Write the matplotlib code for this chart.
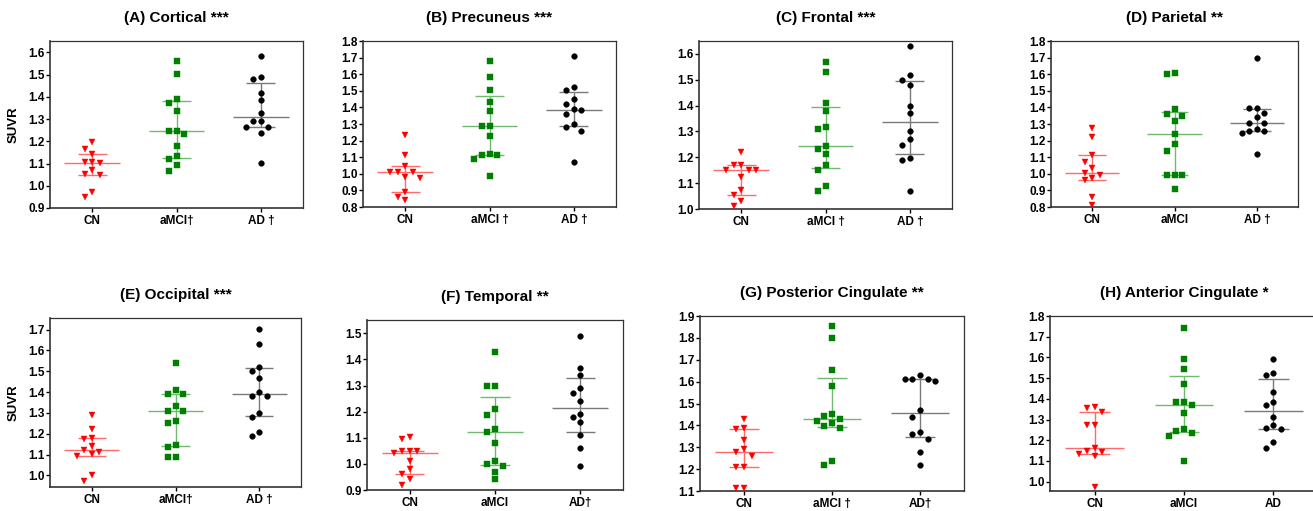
import numpy as np
import matplotlib
matplotlib.use("Agg")
import matplotlib.pyplot as plt

plt.rcParams['font.family'] = ['Liberation Sans', 'DejaVu Sans']
plt.rcParams['font.weight'] = 'bold'

# SUVR values: (CN, aMCI, AD) for every region
cortical = ([1.195, 1.167, 1.141, 1.107, 1.104, 1.107, 1.072, 1.053, 1.047, 0.972, 0.951],
            [1.561, 1.504, 1.389, 1.374, 1.336, 1.245, 1.246, 1.233, 1.180, 1.132, 1.122, 1.092, 1.065],
            [1.584, 1.479, 1.488, 1.419, 1.384, 1.329, 1.291, 1.291, 1.266, 1.266, 1.236, 1.102])
precuneus = ([1.232, 1.113, 1.045, 1.011, 1.011, 1.011, 0.983, 0.973, 0.890, 0.862, 0.842],
             [1.680, 1.581, 1.503, 1.433, 1.380, 1.290, 1.290, 1.230, 1.121, 1.113, 1.113, 1.091, 0.989],
             [1.712, 1.521, 1.505, 1.453, 1.422, 1.390, 1.382, 1.362, 1.300, 1.282, 1.260, 1.071])
frontal = ([1.222, 1.172, 1.172, 1.152, 1.152, 1.152, 1.123, 1.072, 1.053, 1.032, 1.013],
           [1.570, 1.530, 1.410, 1.380, 1.319, 1.310, 1.242, 1.231, 1.212, 1.171, 1.150, 1.090, 1.071],
           [1.630, 1.520, 1.499, 1.480, 1.400, 1.370, 1.300, 1.270, 1.249, 1.199, 1.190, 1.071])
parietal = ([1.274, 1.224, 1.116, 1.074, 1.032, 0.992, 0.974, 1.006, 0.960, 0.862, 0.812],
            [1.602, 1.610, 1.390, 1.358, 1.350, 1.320, 1.240, 1.180, 1.138, 0.990, 0.990, 0.990, 0.908],
            [1.700, 1.398, 1.398, 1.368, 1.340, 1.308, 1.308, 1.270, 1.258, 1.248, 1.258, 1.122])
occipital = ([1.291, 1.222, 1.181, 1.174, 1.141, 1.122, 1.113, 1.103, 1.092, 1.000, 0.971],
             [1.539, 1.409, 1.390, 1.390, 1.331, 1.310, 1.310, 1.260, 1.252, 1.146, 1.138, 1.090, 1.090],
             [1.702, 1.629, 1.522, 1.501, 1.470, 1.400, 1.381, 1.381, 1.299, 1.278, 1.209, 1.190])
temporal = ([1.097, 1.102, 1.050, 1.050, 1.050, 1.043, 1.011, 0.980, 0.960, 0.941, 0.921],
            [1.430, 1.300, 1.300, 1.210, 1.189, 1.132, 1.121, 1.079, 1.010, 0.990, 0.999, 0.969, 0.941],
            [1.490, 1.369, 1.340, 1.289, 1.271, 1.240, 1.190, 1.180, 1.162, 1.110, 1.060, 0.990])
post_cing = ([1.429, 1.389, 1.382, 1.333, 1.290, 1.279, 1.259, 1.210, 1.210, 1.113, 1.113],
             [1.853, 1.801, 1.651, 1.580, 1.450, 1.441, 1.429, 1.421, 1.409, 1.398, 1.388, 1.239, 1.218],
             [1.632, 1.611, 1.611, 1.611, 1.602, 1.470, 1.440, 1.369, 1.362, 1.340, 1.278, 1.218])
ant_cing = ([1.362, 1.354, 1.335, 1.275, 1.275, 1.163, 1.146, 1.144, 1.133, 1.123, 0.974],
            [1.743, 1.593, 1.542, 1.474, 1.383, 1.383, 1.370, 1.331, 1.252, 1.235, 1.243, 1.222, 1.102],
            [1.593, 1.524, 1.514, 1.432, 1.383, 1.372, 1.314, 1.260, 1.272, 1.252, 1.194, 1.162])

regions = [cortical, precuneus, frontal, parietal, occipital, temporal, post_cing, ant_cing]
titles = ['(A) Cortical ***', '(B) Precuneus ***', '(C) Frontal ***', '(D) Parietal **',
          '(E) Occipital ***', '(F) Temporal **', '(G) Posterior Cingulate **', '(H) Anterior Cingulate *']
xlabels = [['CN', 'aMCI†', 'AD †'], ['CN', 'aMCI †', 'AD †'], ['CN', 'aMCI †', 'AD †'],
           ['CN', 'aMCI', 'AD †'], ['CN', 'aMCI†', 'AD †'], ['CN', 'aMCI', 'AD†'],
           ['CN', 'aMCI †', 'AD†'], ['CN', 'aMCI', 'AD']]
ylims = [(0.9, 1.651), (0.8, 1.8), (1.0, 1.65), (0.8, 1.8),
         (0.944, 1.756), (0.9, 1.551), (1.1, 1.9), (0.955, 1.8)]
yticks = [(0.9, 1.6), (0.8, 1.8), (1.0, 1.6), (0.8, 1.8),
          (1.0, 1.7), (0.9, 1.5), (1.1, 1.9), (1.0, 1.8)]

# axes boxes in pixels: left, top, right, bottom
boxes = [(50, 41, 303, 208), (363, 41, 616, 207), (699, 41, 952, 209), (1051, 41, 1298, 207),
         (50, 318, 301, 487), (367, 320, 623, 490), (700, 316, 964, 491), (1050, 316, 1318, 491)]

markers = ['v', 's', 'o']
msizes = [4.5, 4.0, 4.1]
colors = ['#ff0000', '#008000', '#000000']
line_colors = ['#ff6a6a', '#6fba6f', '#7a7a7a']

W, H = 1313, 511


def swarm(vals, ax, step_px=7.6, gap_px=7.2):
    # simple beeswarm: push points sideways when they overlap a placed point
    ppu_y = ax.bbox.height / (ax.get_ylim()[1] - ax.get_ylim()[0])
    ppu_x = ax.bbox.width / (ax.get_xlim()[1] - ax.get_xlim()[0])
    order = np.argsort(vals)[::-1]
    placed = []
    offs = np.zeros(len(vals))
    for i in order:
        y = vals[i] * ppu_y
        for k in [0, -1, 1, -2, 2, -3, 3]:
            x = k * step_px
            if all(abs(x - px) >= step_px - 0.5 or abs(y - py) >= gap_px for px, py in placed):
                placed.append((x, y))
                offs[i] = x / ppu_x
                break
    return offs


fig = plt.figure(figsize=(W / 100, H / 100), dpi=100)

for p, region in enumerate(regions):
    l, t, r, b = boxes[p]
    ax = fig.add_axes([l / W, 1 - b / H, (r - l) / W, (b - t) / H])
    ax.set_xlim(-0.5, 2.5)
    ax.set_ylim(*ylims[p])

    for g, vals in enumerate(region):
        vals = np.array(vals)
        offs = swarm(vals, ax)
        ax.plot(g + offs, vals, linestyle='none', marker=markers[g], markersize=msizes[g],
                color=colors[g], markeredgewidth=0.3, zorder=3)
        # median with interquartile range
        q1, med, q3 = np.percentile(vals, [25, 50, 75], method='weibull')
        ax.hlines(med, g - 0.33, g + 0.33, color=line_colors[g], lw=1.0, zorder=2)
        ax.hlines([q1, q3], g - 0.17, g + 0.17, color=line_colors[g], lw=1.0, zorder=2)
        ax.vlines(g, q1, q3, color=line_colors[g], lw=1.0, zorder=2)

    lo, hi = yticks[p]
    ticks = np.round(np.arange(lo, hi + 0.001, 0.1), 1)
    ax.set_yticks(ticks)
    ax.set_yticklabels(['%.1f' % v for v in ticks])
    ax.set_xticks([0, 1, 2])
    ax.set_xticklabels(xlabels[p])
    ax.tick_params(axis='y', length=3, width=1, labelsize=8.5, pad=1)
    ax.tick_params(axis='x', length=3, width=1, labelsize=8.5, pad=2)
    for lab in ax.get_xticklabels() + ax.get_yticklabels():
        lab.set_fontweight('bold')

    for side in ['left', 'bottom']:
        ax.spines[side].set_linewidth(1.2)
        ax.spines[side].set_color('#333333')
    for side in ['top', 'right']:
        ax.spines[side].set_linewidth(0.9)
        ax.spines[side].set_color('#333333')

    ax.set_title(titles[p], fontsize=11, fontweight='bold', pad=14)
    if p in (0, 4):
        ax.set_ylabel('SUVR', fontsize=9.5, fontweight='bold', labelpad=6)

fig.savefig('out.png', dpi=100)
